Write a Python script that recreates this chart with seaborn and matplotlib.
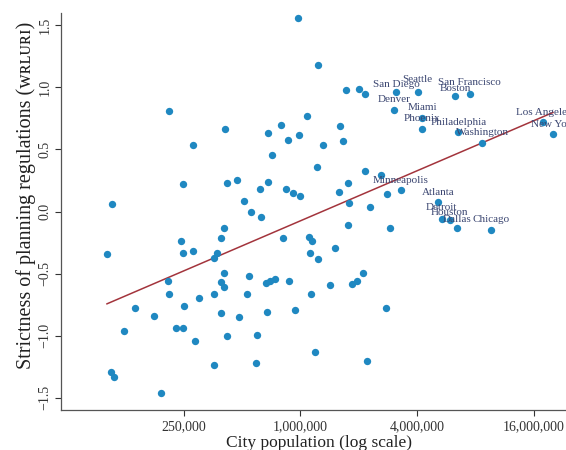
import matplotlib
matplotlib.use("Agg")
import matplotlib.pyplot as plt
import matplotlib.ticker as mticker
import numpy as np
import pandas as pd
import seaborn as sns

# labelled metro areas
cities = ["San Diego", "Seattle", "San Francisco", "Boston", "Denver", "Miami",
          "Phoenix", "Philadelphia", "Washington", "Los Angeles", "New York",
          "Minneapolis", "Atlanta", "Detroit", "Houston", "Dallas", "Chicago"]
city_pop = [3110000, 4030000, 7450000, 6300000, 3050000, 4260000,
            4220000, 6530000, 8650000, 17900000, 20100000,
            3290000, 5130000, 5340000, 5890000, 6450000, 9590000]
city_wrluri = [0.964, 0.964, 0.945, 0.935, 0.819, 0.754,
               0.666, 0.637, 0.553, 0.720, 0.622,
               0.171, 0.074, -0.063, -0.068, -0.129, -0.146]

# the other metro areas (population in thousands)
other_pop_k = [972, 1240, 1724, 2003, 2151, 211, 410, 281, 1079, 799, 684, 868,
               984, 712, 247, 420, 469, 684, 622, 841, 921, 993, 513, 1598, 1316,
               1664, 1215, 2144, 2615, 1751, 1573, 2795, 1778, 2283, 1751, 2886,
               1114, 1150, 1500, 1128, 1236, 2101, 1956, 1836, 1418, 1141, 2752,
               1187, 2195, 107, 554, 630, 404, 391, 244, 247, 280, 100.5, 370, 360,
               815, 402, 208, 388, 402, 541, 663, 698, 741, 878, 211, 360, 529,
               299, 251, 140, 177, 388, 481, 671, 936, 123, 229, 248, 285, 417,
               598, 106, 110, 361, 593, 192]
other_wrluri = [1.562, 1.184, 0.977, 0.991, 0.947, 0.811, 0.666, 0.532, 0.768,
                0.698, 0.631, 0.577, 0.613, 0.457, 0.221, 0.232, 0.251, 0.240,
                0.185, 0.179, 0.146, 0.123, 0.088, 0.690, 0.532, 0.567, 0.360,
                0.323, 0.294, 0.232, 0.157, 0.138, 0.071, 0.034, -0.106, -0.135,
                -0.203, -0.237, -0.296, -0.334, -0.382, -0.495, -0.559, -0.583,
                -0.589, -0.661, -0.779, -1.136, -1.202, 0.063, -0.004, -0.044,
                -0.133, -0.216, -0.240, -0.331, -0.320, -0.343, -0.334, -0.372,
                -0.216, -0.497, -0.561, -0.569, -0.610, -0.521, -0.575, -0.561,
                -0.545, -0.559, -0.666, -0.669, -0.664, -0.701, -0.758, -0.779,
                -0.841, -0.819, -0.851, -0.808, -0.795, -0.961, -0.937, -0.937,
                -1.042, -1.001, -0.993, -1.297, -1.331, -1.240, -1.219, -1.465]

x_ticks = [250000, 1000000, 4000000, 16000000]

df = pd.DataFrame({
    "pop": city_pop + [p * 1000 for p in other_pop_k],
    "wrluri": city_wrluri + other_wrluri,
    "name": cities + [""] * len(other_pop_k),
})

sns.set_theme(style="ticks")
plt.rcParams["font.family"] = ["Liberation Serif", "DejaVu Serif"]

fig = plt.figure(figsize=(5.66, 4.5), dpi=100)
ax = fig.add_axes([61 / 566, 40 / 450, 505 / 566, 397 / 450])

dot = "#1f88c1"
sns.scatterplot(data=df, x="pop", y="wrluri", ax=ax, color=dot, s=28,
                linewidth=0, zorder=3)
sns.regplot(data=df, x="pop", y="wrluri", ax=ax, logx=True, ci=None,
            scatter=False, line_kws={"color": "#a3343c", "lw": 1.1, "zorder": 2})

# vertical nudges of city labels (pixels above the dot)
label_dy = {"San Diego": 7, "Seattle": 12, "San Francisco": 12, "Boston": 7,
            "Detroit": 11.5, "Houston": 7.5, "Dallas": 8.5}
for name, x, y in zip(cities, city_pop, city_wrluri):
    ax.annotate(name, (x, y), xytext=(0, label_dy.get(name, 10)),
                textcoords="offset pixels", ha="center", va="center",
                fontsize=8, color="#3b4671", zorder=4)

ax.set_xscale("log")
ax.set_xlim(58400, 23400000)
ax.set_ylim(-1.6, 1.6)
ax.set_xticks(x_ticks)
ax.xaxis.set_minor_locator(mticker.NullLocator())
ax.xaxis.set_major_formatter(mticker.FuncFormatter(lambda v, _: f"{v:,.0f}"))
ax.set_yticks([-1.5, -1.0, -0.5, 0.0, 0.5, 1.0, 1.5])
ax.set_yticklabels(["\u22121.5", "\u22121.0", "\u22120.5", "0.0", "0.5", "1.0", "1.5"],
                   rotation=90, va="center")

ax.tick_params(axis="both", labelsize=10, colors="#333333", length=4,
               width=0.8, pad=3)
for s in ["left", "bottom"]:
    ax.spines[s].set_color("#555555")
    ax.spines[s].set_linewidth(0.9)
sns.despine(ax=ax)

ax.set_xlabel("City population (log scale)", fontsize=12.5, color="#222222")
ax.xaxis.set_label_coords(0.51, -0.062)
ax.set_ylabel("Strictness of planning regulations (\u1d21\u0280\u029f\u1d1c\u0280\u026a)",
              fontsize=14.5, color="#222222")
ax.yaxis.set_label_coords(-0.05, 0.54)

fig.savefig("out.png", dpi=100)
